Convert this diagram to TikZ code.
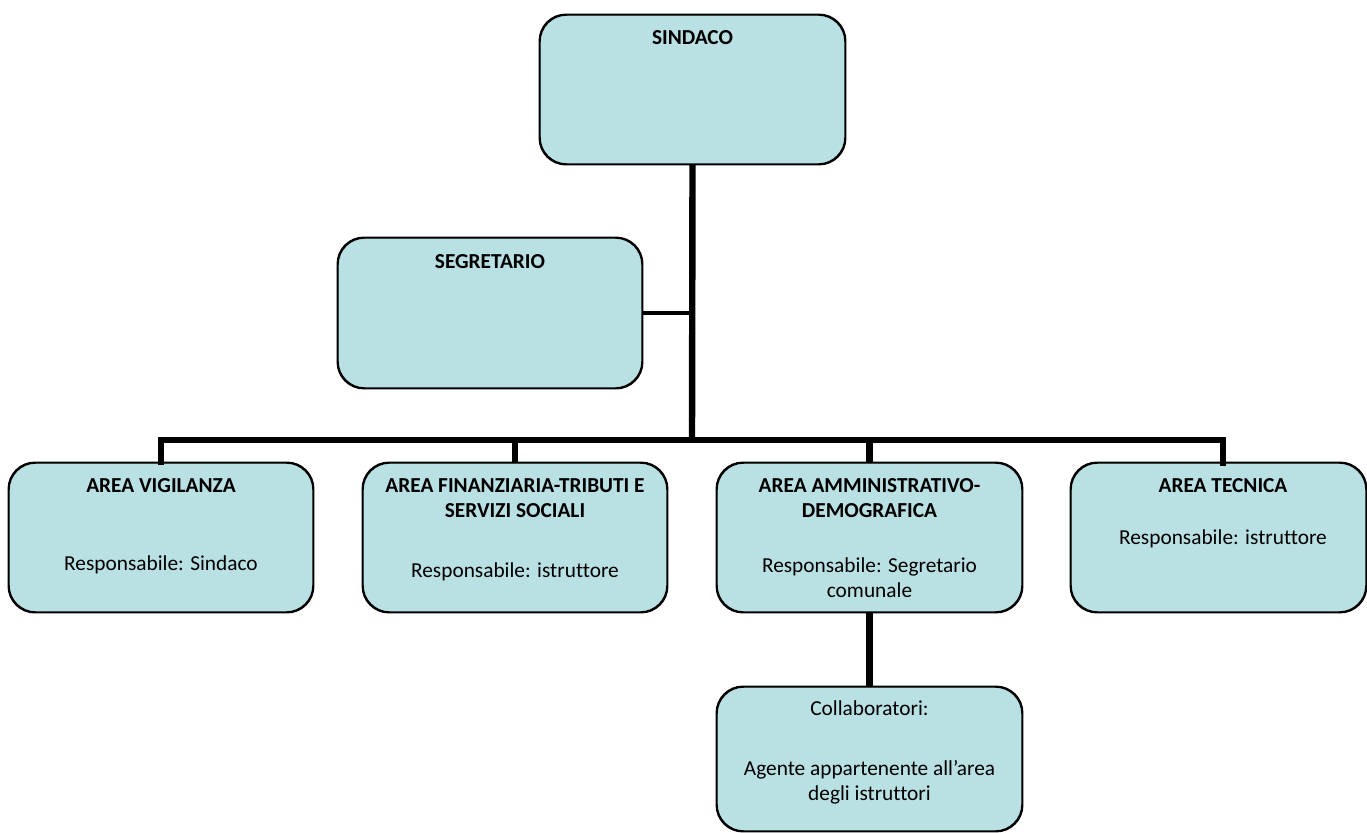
\documentclass[tikz,border=0pt]{standalone}
\usepackage{fontspec}
\setmainfont{Carlito}[Ligatures={NoCommon}]
\definecolor{boxfill}{RGB}{185,224,227}
\begin{document}
\begin{tikzpicture}[x=0.75pt,y=-0.75pt,
  box/.style={draw=black,line width=1.1pt,fill=boxfill,rounded corners=20pt,inner sep=0pt},
  conn/.style={line width=4.8pt,draw=black},
  thinconn/.style={line width=3pt,draw=black},
  ttl/.style={anchor=base,inner sep=0pt,font=\fontsize{16}{19.5}\selectfont\bfseries},
  txt/.style={anchor=base,inner sep=0pt,font=\fontsize{16}{19.5}\selectfont}]
\useasboundingbox (0,0) rectangle (1367,832);
% boxes
\node[box,minimum width=305*0.75pt,minimum height=149*0.75pt] (sind) at (692.5,89.5) {};
\node[box,minimum width=304*0.75pt,minimum height=150*0.75pt] (seg) at (490,313) {};
\node[box,minimum width=304*0.75pt,minimum height=149*0.75pt] (vig) at (161,537.5) {};
\node[box,minimum width=304*0.75pt,minimum height=149*0.75pt] (fin) at (515,537.5) {};
\node[box,minimum width=305*0.75pt,minimum height=149*0.75pt] (amm) at (869.5,537.5) {};
\node[box,minimum width=295*0.75pt,minimum height=149*0.75pt] (tec) at (1218.5,537.5) {};
\node[box,minimum width=305*0.75pt,minimum height=144*0.75pt] (coll) at (869.5,759) {};
% connector coordinates
\coordinate (j) at (692,440);
\coordinate (jv) at (161,440);
\coordinate (jt) at (1223,440);
\coordinate (tectop) at (1223,463);
% connectors
\draw[conn] (sind.south) -- (j);
\draw[thinconn] (seg.east) -- (seg.east -| j);
\draw[conn,line cap=rect] (vig.north) -- (jv) -- (jt) -- (tectop);
\draw[conn] (fin.north) -- (fin.north |- j);
\draw[conn] (amm.north) -- (amm.north |- j);
\draw[conn] (amm.south) -- (coll.north);
% redraw box borders over connector ends
\foreach \b in {sind,seg,vig,fin,amm,tec,coll}{
  \draw[line width=1.1pt,rounded corners=20pt] (\b.north west) rectangle (\b.south east);
}
% texts
\node[ttl] (t1) at (692.5,44) {SINDACO};
\node[ttl] (t2) at (490,268) {SEGRETARIO};
\node[ttl] (t3) at (161,492) {AREA VIGILANZA};
\node[txt] (t4) at (161,570) {Responsabile: Sindaco};
\node[ttl] (t5) at (515,492) {AREA FINANZIARIA-TRIBUTI E};
\node[ttl] (t6) at (515,517) {SERVIZI SOCIALI};
\node[txt] (t7) at (515,577) {Responsabile: istruttore};
\node[ttl] (t8) at (869.5,492) {AREA AMMINISTRATIVO-};
\node[ttl] (t9) at (869.5,517) {DEMOGRAFICA};
\node[txt] (t10) at (869.5,572) {Responsabile: Segretario};
\node[txt] (t11) at (869.5,597) {comunale};
\node[ttl] (t12) at (1223,492) {AREA TECNICA};
\node[txt] (t13) at (1223,544) {Responsabile: istruttore};
\node[txt] (t14) at (869.5,715) {Collaboratori:};
\node[txt] (t15) at (869.5,775) {Agente appartenente all’area};
\node[txt] (t16) at (869.5,800) {degli istruttori};
\end{tikzpicture}
\end{document}
